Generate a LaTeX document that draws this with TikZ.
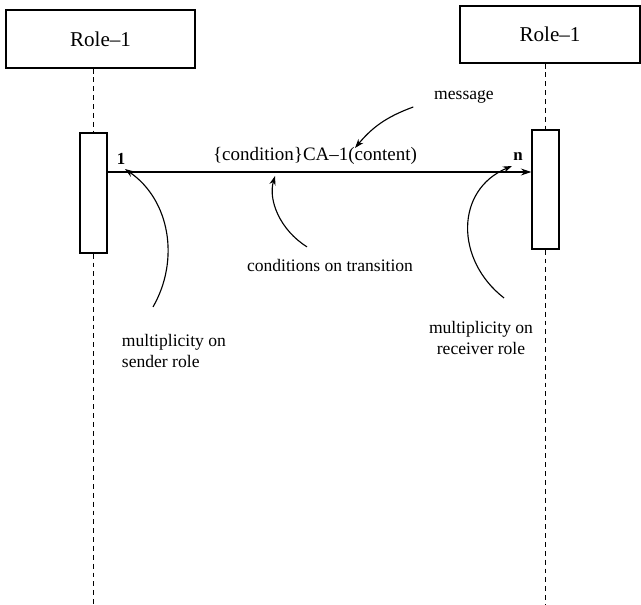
\documentclass[tikz,border=0pt]{standalone}
\usepackage{fontspec}
\setmainfont{Liberation Serif}
\usetikzlibrary{arrows.meta}

\begin{document}
\begin{tikzpicture}[x=0.025cm, y=-0.025cm,
        role/.style={draw, line width=.9pt, minimum height=1.45cm, font=\fontsize{15}{18}\selectfont},
        act/.style={draw, line width=.9pt, minimum width=.675cm, minimum height=3cm},
        life/.style={line width=.9pt, dash pattern=on 3.5pt off 2.8pt},
        note/.style={-{Stealth[length=6.5pt,width=4.5pt]}, line width=.8pt},
        txt/.style={font=\fontsize{12.5}{15.5}\selectfont, align=center}]
        \useasboundingbox (0,0) rectangle (641,605);
        % the two roles and their activations
        \node[role, minimum width=4.725cm] (sender) at (100.5,39) {Role--1};
        \node[role, minimum width=4.5cm, minimum height=1.425cm] (receiver) at (550,34.5) {Role--1};
        \node[act] (lact) at (93.5,193) {};
        \node[act, minimum height=2.975cm] (ract) at (545.5,189.5) {};
        \foreach \r/\a in {sender/lact, receiver/ract}{
          \draw[life] (\r.south -| \a) -- (\a.north);
          \draw[life] (\a.south) -- (\a.south |- 0,605);};
        % the message
        \coordinate (msg) at (300,172);
        \draw[-{Stealth[length=7.5pt,width=5pt]}, line width=.8pt] (lact.east |- msg) -- (ract.west |- msg);
        \node[font=\fontsize{13.5}{16}\selectfont] (msglbl) at (315,156) {\{condition\}CA--1(content)};
        \node[font=\fontsize{12}{14}\selectfont\bfseries] (one) at (121,159) {1};
        \node[font=\fontsize{12}{14}\selectfont\bfseries] (many) at (518,157) {n};
        % notes
        \node[txt] (msgnote) at (464,97) {message};
        \node[txt] (condnote) at (330,265) {conditions on transition};
        \node[txt, align=left, anchor=west] (sendnote) at (117,351) {multiplicity on\\sender role};
        \node[txt] (recvnote) at (481,338) {multiplicity on\\receiver role};
        \coordinate (msgtip) at (355,148);
        \coordinate (condtip) at (275,176);
        \coordinate (sendtip) at (125,169);
        \coordinate (recvtip) at (512,166);
        \draw[note] ([shift={(-16,10)}]msgnote.west) to[bend right=15] (msgtip);
        \draw[note] ([shift={(-23,-7)}]condnote.north) .. controls (280,230) and (268,200) .. (condtip);
        \draw[note] ([shift={(36,-22)}]sendnote.north west) .. controls (180,260) and (170,200) .. (sendtip);
        \draw[note] ([shift={(23,-18)}]recvnote.north) .. controls (455,260) and (455,190) .. (recvtip);
\end{tikzpicture}
\end{document}
